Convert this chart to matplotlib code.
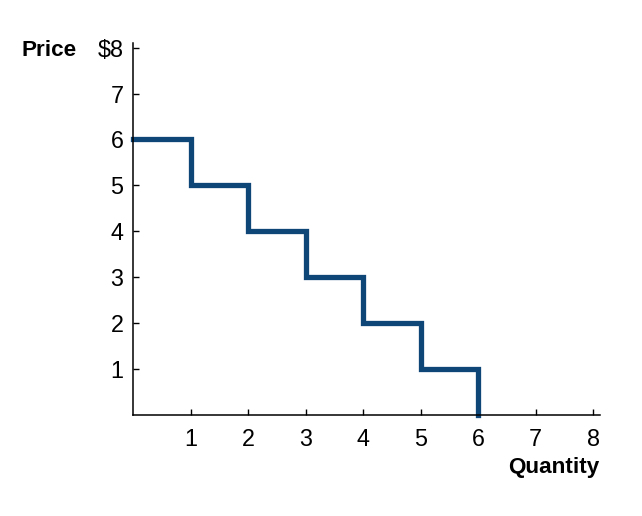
import matplotlib.pyplot as plt

quantity = [0, 1, 2, 3, 4, 5, 6]
price = [6, 5, 4, 3, 2, 1, 0]
x_ticks = [1, 2, 3, 4, 5, 6, 7, 8]
y_ticks = [1, 2, 3, 4, 5, 6, 7, 8]
y_labels = ["1", "2", "3", "4", "5", "6", "7", "$8"]

plt.rcParams['font.family'] = ['Liberation Sans', 'DejaVu Sans']

fig = plt.figure(figsize=(6.42, 5.16), dpi=100)
ax = fig.add_axes([133 / 642, 101 / 516, 467 / 642, 372 / 516])

ax.step(quantity, price, where='post', color='#0f4678', lw=3.8,
        solid_joinstyle='miter', clip_on=False)

ax.set_xlim(0, 8.12)
ax.set_ylim(0, 8.1)
ax.set_xticks(x_ticks)
ax.set_yticks(y_ticks)
ax.set_yticklabels(y_labels)
ax.tick_params(direction='in', length=4, width=1, labelsize=16.8)
ax.tick_params(axis='x', pad=9)
ax.tick_params(axis='y', pad=7)
for s in ['top', 'right']:
    ax.spines[s].set_visible(False)
for s in ['left', 'bottom']:
    ax.spines[s].set_linewidth(1.1)

fig.text(22 / 642, 1 - 50 / 516, "Price", fontsize=16.2, weight='bold',
         ha='left', va='center')
fig.text(599 / 642, 1 - 468 / 516, "Quantity", fontsize=16.2, weight='bold',
         ha='right', va='center')

fig.savefig("out.png", dpi=100)
